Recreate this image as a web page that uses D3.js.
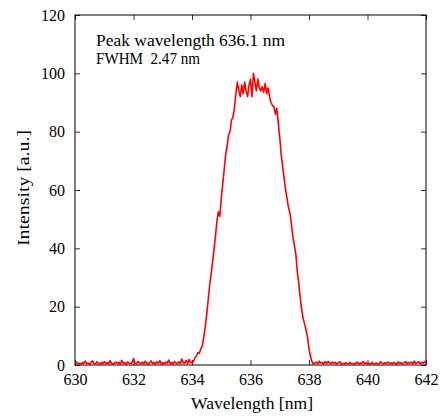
<!DOCTYPE html>
<html>
<head>
<meta charset="utf-8">
<script src="https://cdn.jsdelivr.net/npm/d3@7"></script>
<style>
  body { margin: 0; background: #fff; }
  text { font-family: "Liberation Serif", "DejaVu Serif", serif; fill: #000; white-space: pre; }
</style>
</head>
<body>
<svg id="chart"></svg>
<script>
// wavelength samples [nm]
const wavelengths = [
  630.00,630.05,630.10,630.15,630.20,630.25,630.30,630.35,630.40,630.45,
  630.50,630.55,630.60,630.65,630.70,630.75,630.80,630.85,630.90,630.95,
  631.00,631.05,631.10,631.15,631.20,631.25,631.30,631.35,631.40,631.45,
  631.50,631.55,631.60,631.65,631.70,631.75,631.80,631.85,631.90,631.95,
  632.00,632.05,632.10,632.15,632.20,632.25,632.30,632.35,632.40,632.45,
  632.50,632.55,632.60,632.65,632.70,632.75,632.80,632.85,632.90,632.95,
  633.00,633.05,633.10,633.15,633.20,633.25,633.30,633.35,633.40,633.45,
  633.50,633.55,633.60,633.65,633.70,633.75,633.80,633.85,633.90,633.95,
  634.00,634.05,634.10,634.15,634.20,634.25,634.30,634.35,634.40,634.45,
  634.50,634.55,634.60,634.65,634.70,634.75,634.80,634.85,634.90,634.95,
  635.00,635.05,635.10,635.15,635.20,635.25,635.30,635.35,635.40,635.45,
  635.50,635.55,635.60,635.65,635.70,635.75,635.80,635.85,635.90,635.95,
  636.00,636.05,636.10,636.15,636.20,636.25,636.30,636.35,636.40,636.45,
  636.50,636.55,636.60,636.65,636.70,636.75,636.80,636.85,636.90,636.95,
  637.00,637.05,637.10,637.15,637.20,637.25,637.30,637.35,637.40,637.45,
  637.50,637.55,637.60,637.65,637.70,637.75,637.80,637.85,637.90,637.95,
  638.00,638.05,638.10,638.15,638.20,638.25,638.30,638.35,638.40,638.45,
  638.50,638.55,638.60,638.65,638.70,638.75,638.80,638.85,638.90,638.95,
  639.00,639.05,639.10,639.15,639.20,639.25,639.30,639.35,639.40,639.45,
  639.50,639.55,639.60,639.65,639.70,639.75,639.80,639.85,639.90,639.95,
  640.00,640.05,640.10,640.15,640.20,640.25,640.30,640.35,640.40,640.45,
  640.50,640.55,640.60,640.65,640.70,640.75,640.80,640.85,640.90,640.95,
  641.00,641.05,641.10,641.15,641.20,641.25,641.30,641.35,641.40,641.45,
  641.50,641.55,641.60,641.65,641.70,641.75,641.80,641.85,641.90,641.95,
  642.00
];

// intensity [a.u.], same order as wavelengths
const intensities = [
  0.4,1.0,0.3,0.6,0.2,0.8,0.5,1.3,0.4,0.7,
  0.2,0.9,1.4,0.5,0.3,1.1,0.6,0.2,0.9,0.4,
  1.2,0.5,0.8,0.3,1.5,0.6,0.2,0.7,1.0,0.4,
  0.9,0.3,1.6,0.5,0.8,0.2,1.1,0.6,0.4,0.9,
  2.2,0.5,0.3,1.2,0.7,0.4,1.0,0.3,1.3,0.6,
  0.2,0.8,1.4,0.5,0.9,0.3,1.1,0.6,1.5,0.4,
  0.8,0.3,1.0,0.6,1.7,0.4,0.9,0.2,1.2,0.7,
  0.5,1.1,0.4,2.0,0.8,0.6,1.6,0.5,1.9,0.9,
  0.8,1.2,2.5,3.0,4.2,4.0,5.5,6.5,9.5,13,
  17,22,27,31,35,39.5,44,49,52.5,51,
  57,62,67,72,75,79,80,84,85,88,
  93,97,94,92,96,93,97,94,92,96,
  98,92,100,97,94,98,95,94,95.5,93.5,
  96.5,93,95,92,90,89,88.5,86,88,83,
  78,72,68,64,60,57,54,52,48,44,
  41,38,32,28,23,19,16,14,12,9.5,
  5.5,3,1.2,0.3,0.6,1.0,0.4,1.3,0.7,0.9,
  0.3,1.1,0.5,1.2,0.8,0.4,1.0,0.6,0.9,0.3,
  0.7,1.1,0.4,0.5,0.2,0.8,0.4,0.3,0.9,0.5,
  0.2,0.6,0.4,1.0,0.3,0.7,0.5,1.2,0.4,0.8,
  0.3,0.6,0.2,0.9,0.5,0.3,0.7,0.2,0.4,1.1,
  0.6,0.3,0.8,0.5,1.0,0.4,0.7,0.3,0.9,0.6,
  0.2,1.1,0.5,0.8,0.3,0.7,1.2,0.4,0.9,0.6,
  1.0,0.3,1.3,0.5,0.8,1.1,0.4,0.9,0.6,1.2,
  0.7
];

const xTicks = [630, 632, 634, 636, 638, 640, 642];
const yTicks = [0, 20, 40, 60, 80, 100, 120];
const notes = ["Peak wavelength 636.1 nm", "FWHM  2.47 nm"];

const margin = { top: 15, right: 16, bottom: 53, left: 75 };
const W = 442, H = 418;
const width = W - margin.left - margin.right;
const height = H - margin.top - margin.bottom;

const svg = d3.select('#chart').attr('width', W).attr('height', H);
const g = svg.append('g').attr('transform', `translate(${margin.left},${margin.top})`);

const x = d3.scaleLinear().domain([630, 642]).range([0, width]);
const y = d3.scaleLinear().domain([0, 120]).range([height, 0]);

const data = wavelengths.map((w, i) => ({ w, v: intensities[i] }));

// inward ticks on all four sides
const tickLen = 5;
const axes = [
  { ax: d3.axisBottom(x).tickValues(xTicks).tickSizeInner(-tickLen).tickSizeOuter(0).tickPadding(9), t: `translate(0,${height})`, lbl: true },
  { ax: d3.axisTop(x).tickValues(xTicks).tickSizeInner(-tickLen).tickSizeOuter(0), t: 'translate(0,0)', lbl: false },
  { ax: d3.axisLeft(y).tickValues(yTicks).tickSizeInner(-tickLen).tickSizeOuter(0).tickPadding(10), t: 'translate(0,0)', lbl: true },
  { ax: d3.axisRight(y).tickValues(yTicks).tickSizeInner(-tickLen).tickSizeOuter(0), t: `translate(${width},0)`, lbl: false }
];
axes.forEach(a => {
  const ag = g.append('g').attr('transform', a.t).call(a.ax);
  ag.select('.domain').remove();
  ag.selectAll('line').attr('stroke', '#333');
  ag.selectAll('text')
    .style('font-family', '"Liberation Serif", serif')
    .style('font-size', '16px')
    .attr('fill', '#000');
  if (!a.lbl) ag.selectAll('text').remove();
});

g.append('rect')
  .attr('width', width).attr('height', height)
  .attr('fill', 'none').attr('stroke', '#000').attr('stroke-width', 1);

const line = d3.line().x(d => x(d.w)).y(d => y(d.v));
g.append('path')
  .datum(data)
  .attr('d', line)
  .attr('fill', 'none')
  .attr('stroke', '#ff0000')
  .attr('stroke-width', 1.6)
  .attr('stroke-linejoin', 'round');

// annotation
g.append('text').attr('x', 21).attr('y', 31).style('font-size', '16px')
  .attr('textLength', 189).attr('lengthAdjust', 'spacingAndGlyphs').text(notes[0]);
g.append('text').attr('x', 21).attr('y', 49).style('font-size', '16px')
  .attr('textLength', 104).attr('lengthAdjust', 'spacingAndGlyphs').text(notes[1]);

// axis titles
svg.append('text')
  .attr('x', 252).attr('y', 409).attr('text-anchor', 'middle')
  .style('font-size', '16px')
  .attr('textLength', 122).attr('lengthAdjust', 'spacingAndGlyphs')
  .text('Wavelength [nm]');
svg.append('text')
  .attr('transform', 'translate(29,188) rotate(-90)')
  .attr('text-anchor', 'middle')
  .style('font-size', '16px')
  .attr('textLength', 116).attr('lengthAdjust', 'spacingAndGlyphs')
  .text('Intensity [a.u.]');
</script>
</body>
</html>
